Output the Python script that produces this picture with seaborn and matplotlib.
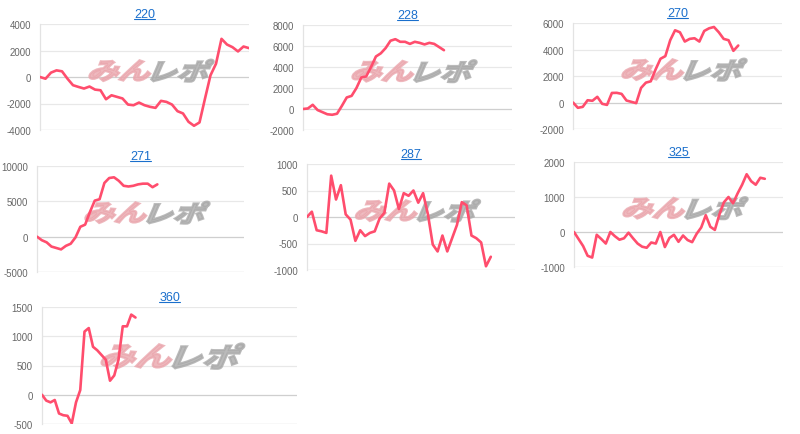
import matplotlib
matplotlib.use("Agg")
import matplotlib.pyplot as plt
import seaborn as sns
from matplotlib.font_manager import FontProperties
from matplotlib.textpath import TextPath
from matplotlib.patches import PathPatch
from matplotlib.lines import Line2D
from matplotlib.transforms import Affine2D, ScaledTranslation

# machine numbers (chart titles)
titles = ["220", "228", "270", "271", "287", "325", "360"]

# running totals
v220 = [0, -130, 330, 500, 430, -130, -620, -750, -870, -720, -950, -1000, -1680,
        -1380, -1500, -1620, -2080, -2130, -1930, -2130, -2250, -2330, -1800, -1880,
        -2080, -2580, -2750, -3380, -3680, -3430, -1630, 130, 1000, 2880, 2450, 2250,
        1930, 2300, 2180]
v228 = [0, 50, 400, -100, -300, -500, -550, -450, 300, 1100, 1250, 2000, 3000, 3100,
        4000, 5000, 5300, 5800, 6500, 6650, 6400, 6400, 6200, 6400, 6300, 6150, 6300,
        6200, 5900, 5600]
v270 = [0, -400, -330, 170, 130, 430, -100, -180, 720, 730, 650, 150, 50, -50, 1100,
        1500, 1600, 2500, 3300, 3500, 4700, 5450, 5300, 4600, 4800, 4850, 4600, 5400,
        5600, 5700, 5300, 4800, 4700, 3900, 4300]
v271 = [0, -500, -800, -1400, -1600, -1800, -1300, -1000, -100, 1400, 1700, 3500, 5100,
        5300, 7600, 8300, 8400, 7900, 7200, 7100, 7200, 7400, 7500, 7500, 7000, 7400]
v287 = [0, 100, -250, -270, -300, 780, 330, 600, 50, -50, -450, -250, -360, -300, -270,
        -30, 80, 630, 500, 150, 450, 400, 500, 270, 450, 50, -520, -650, -350, -650,
        -400, -150, 280, 220, -350, -400, -480, -930, -750]
v325 = [0, -200, -400, -680, -730, -80, -200, -330, 0, -120, -220, -180, -20, -180,
        -330, -420, -450, -300, -330, 0, -430, -170, -80, -280, -100, -230, -290, -50,
        130, 480, 150, 60, 500, 850, 1000, 820, 1100, 1350, 1650, 1450, 1350, 1550, 1520]
v360 = [0, -100, -130, -90, -320, -350, -360, -490, -130, 80, 1080, 1140, 820, 760, 680,
        600, 240, 330, 600, 1170, 1170, 1370, 1320]

series = [v220, v228, v270, v271, v287, v325, v360]
n_slots = [39, 44, 44, 44, 44, 47, 61]       # number of x categories per chart
y_ranges = [(-4000, 4000), (-2000, 8000), (-2000, 6000), (-5000, 10000),
            (-1000, 1000), (-1000, 2000), (-500, 1500)]
y_steps = [2000, 2000, 2000, 5000, 500, 1000, 500]

# axes boxes in pixels: left, right, top, bottom
boxes = [(40, 249, 25, 131), (303, 512, 26, 131), (573, 782, 24, 130),
         (37, 244, 167, 273), (307, 515, 165, 271), (574, 783, 163, 268),
         (42, 297, 308, 425)]
logo_pos = [(0.53, 0.56)] * 6 + [(0.51, 0.58)]
logo_scale = [1.0] * 6 + [1.15]

W, H = 800, 435
sns.set_theme(style="white")
plt.rcParams['font.family'] = ['Liberation Sans', 'DejaVu Sans']
fig = plt.figure(figsize=(W / 100, H / 100), dpi=100)

line_color = "#ff4d6d"
grid_color = "#e8e8e8"
logo_font = FontProperties(family="Noto Sans CJK JP", weight="bold")


def add_logo(ax, pos, sc):
    parts = [("みん", "#eaa6ad"), ("レポ", "#a9a9a9")]
    paths = [TextPath((0, 0), t, size=18, prop=logo_font) for t, _ in parts]
    widths = [p.get_extents().width for p in paths]
    gap = 2
    total = sum(widths) + gap
    x = -total / 2
    for (t, col), p, w in zip(parts, paths, widths):
        ext = p.get_extents()
        tr = (Affine2D().translate(x - ext.x0, -ext.height / 2 - ext.y0)
              .skew_deg(18, 0).scale(1.32 * sc, 1.0 * sc).scale(fig.dpi / 72 * 0.95)
              + ScaledTranslation(pos[0], pos[1], ax.transAxes))
        ax.add_patch(PathPatch(p, facecolor=col, edgecolor=col, linewidth=1.6,
                               alpha=0.8, transform=tr, clip_on=False, zorder=1))
        x += w + gap


axes = []
for i, vals in enumerate(series):
    l, r, t, b = boxes[i]
    ax = fig.add_axes([l / W, 1 - b / H, (r - l) / W, (b - t) / H])
    axes.append(ax)
    lo, hi = y_ranges[i]
    ticks = list(range(lo, hi + 1, y_steps[i]))
    for yv in ticks:
        ax.axhline(yv, color="#cfcfcf" if yv in (0, lo) else grid_color, lw=0.9, zorder=0)
    add_logo(ax, logo_pos[i], logo_scale[i])
    sns.lineplot(x=list(range(len(vals))), y=vals, ax=ax, color=line_color,
                 linewidth=1.9, zorder=3)
    ax.set_xlim(0, n_slots[i] - 1)
    ax.set_ylim(lo, hi)
    ax.set_yticks(ticks)
    ax.set_yticklabels([str(v) for v in ticks])
    ax.set_xticks([])
    ax.set_xlabel("")
    ax.set_ylabel("")
    ax.tick_params(axis="y", length=5, width=0.7, color=grid_color, pad=1.5,
                   labelsize=6.9, labelcolor="#666666")
    for s in ("top", "right", "bottom"):
        ax.spines[s].set_visible(False)
    ax.spines["left"].set_color("#e3e3e3")
    ax.spines["left"].set_linewidth(0.9)
    ax.set_facecolor("none")
    ax.set_title(titles[i], fontsize=9, color="#1a6fcc", pad=5)

# underline the link-style titles
fig.canvas.draw()
renderer = fig.canvas.get_renderer()
for ax in axes:
    bb = ax.title.get_window_extent(renderer)
    y = bb.y0 + 1.5
    fig.add_artist(Line2D([bb.x0, bb.x1], [y, y], transform=None,
                          color="#1a6fcc", lw=0.8))

fig.savefig("out.png", dpi=100, facecolor="white")
